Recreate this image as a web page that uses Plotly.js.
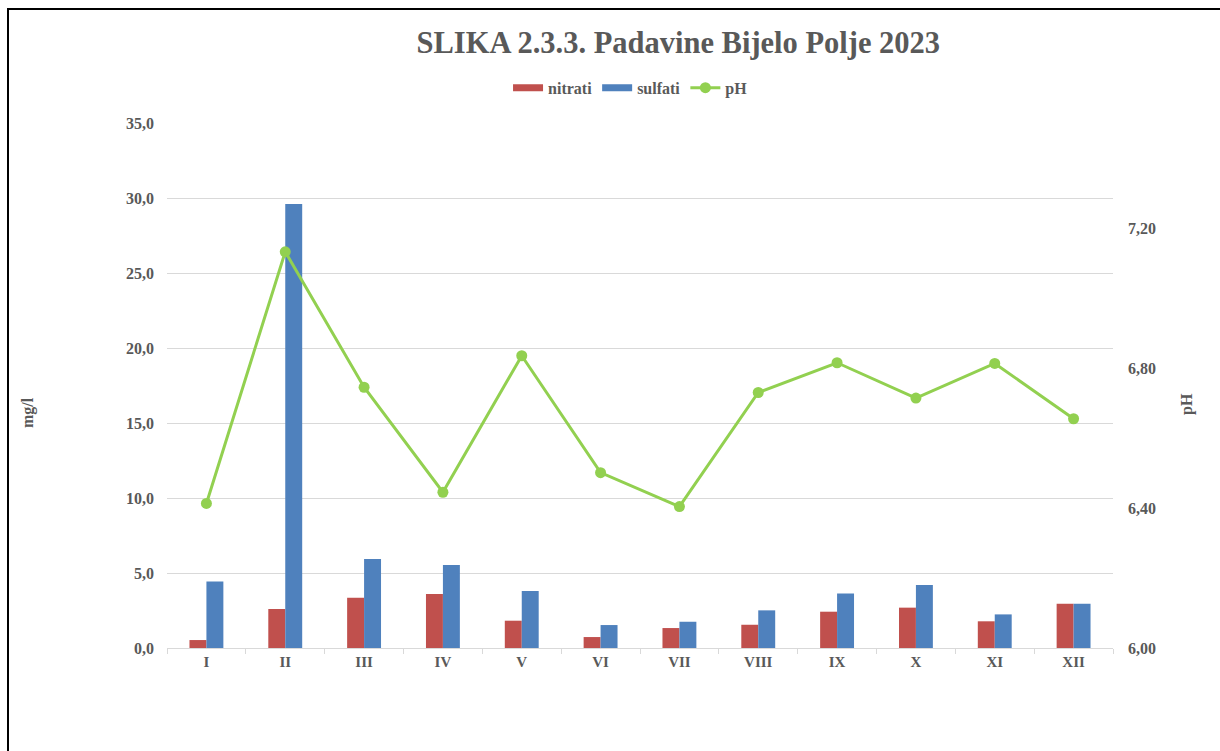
<!DOCTYPE html>
<html>
<head>
<meta charset="utf-8">
<script src="https://cdn.plot.ly/plotly-3.0.1.min.js"></script>
<style>
  html, body { margin: 0; padding: 0; background: #fff; overflow: hidden; }
  #chart { width: 1220px; height: 751px; position: absolute; left: 0; top: 0; }
  #frame { position: absolute; left: 7px; top: 8px; width: 1220px; height: 760px;
           border-left: 2px solid #000; border-top: 2px solid #000; pointer-events: none; }
</style>
</head>
<body>
<div id="chart"></div>
<div id="frame"></div>
<script>
const months  = ['I','II','III','IV','V','VI','VII','VIII','IX','X','XI','XII'];
const nitrati = [0.53, 2.6, 3.35, 3.6, 1.82, 0.73, 1.33, 1.55, 2.42, 2.69, 1.78, 2.95];
const sulfati = [4.44, 29.6, 5.93, 5.53, 3.8, 1.53, 1.75, 2.51, 3.64, 4.2, 2.24, 2.95];
const pH      = [6.413, 7.132, 6.745, 6.445, 6.835, 6.501, 6.404, 6.730, 6.815, 6.714, 6.813, 6.655];

const RED = '#C0504D', BLUE = '#4F81BD', GREEN = '#92D050', GRAY = '#595959';
const FONT = 'Liberation Serif, Times New Roman, serif';

const traces = [
  { type: 'bar', name: 'nitrati', x: months, y: nitrati, marker: { color: RED },
    showlegend: false, hoverinfo: 'y' },
  { type: 'bar', name: 'sulfati', x: months, y: sulfati, marker: { color: BLUE },
    showlegend: false, hoverinfo: 'y' },
  { type: 'scatter', mode: 'lines', name: 'nitrati', x: [null], y: [null],
    line: { color: RED, width: 7 }, showlegend: true, hoverinfo: 'skip' },
  { type: 'scatter', mode: 'lines', name: 'sulfati', x: [null], y: [null],
    line: { color: BLUE, width: 7 }, showlegend: true, hoverinfo: 'skip' },
  { type: 'scatter', mode: 'lines+markers', name: 'pH', x: months, y: pH, yaxis: 'y2',
    line: { color: GREEN, width: 3 }, marker: { color: GREEN, size: 11 } }
];

const layout = {
  width: 1220, height: 751,
  margin: { l: 167, r: 107, t: 123, b: 103 },
  paper_bgcolor: '#fff', plot_bgcolor: '#fff',
  separators: ', ',
  font: { family: FONT, color: GRAY, size: 15, weight: 'bold' },
  title: {
    text: 'SLIKA 2.3.3. Padavine Bijelo Polje 2023',
    font: { family: FONT, size: 30.5, color: GRAY, weight: 'bold' },
    x: 0.556, xanchor: 'center', xref: 'container',
    y: 0.944, yanchor: 'middle', yref: 'container'
  },
  barmode: 'group', bargap: 0.57, bargroupgap: 0,
  showlegend: true,
  legend: {
    orientation: 'h', x: 0.49, xanchor: 'center', y: 1.067, yanchor: 'middle',
    font: { family: FONT, size: 16, color: GRAY, weight: 'bold' },
    itemwidth: 30, tracegroupgap: 0, traceorder: 'normal'
  },
  xaxis: {
    type: 'category', range: [-0.5, 11.5], autorange: false,
    showgrid: false, zeroline: false,
    showline: true, linecolor: '#D9D9D9', linewidth: 1,
    ticks: 'outside', tickson: 'boundaries', ticklen: 5, tickcolor: '#D9D9D9',
    tickfont: { family: FONT, size: 15, color: GRAY, weight: 'bold' },
    fixedrange: true
  },
  yaxis: {
    range: [0, 35], dtick: 5, tickformat: '.1f',
    showgrid: true, gridcolor: '#D9D9D9', gridwidth: 1,
    zeroline: false, showline: false, ticks: '',
    ticklabelstandoff: 12,
    tickfont: { family: FONT, size: 16, color: GRAY, weight: 'bold' },
    fixedrange: true
  },
  yaxis2: {
    overlaying: 'y', side: 'right',
    range: [6, 7.5], dtick: 0.4, tick0: 6, tickformat: '.2f',
    showgrid: false, zeroline: false, showline: false, ticks: '',
    ticklabelstandoff: 14,
    tickfont: { family: FONT, size: 16, color: GRAY, weight: 'bold' },
    fixedrange: true
  },
  annotations: [
    { text: 'mg/l', xref: 'paper', yref: 'paper', x: (28 - 167) / 946, y: (648 - 413) / 525,
      xanchor: 'center', yanchor: 'middle', textangle: -90, showarrow: false,
      font: { family: FONT, size: 16, color: GRAY, weight: 'bold' } },
    { text: 'pH', xref: 'paper', yref: 'paper', x: (1187 - 167) / 946, y: (648 - 404) / 525,
      xanchor: 'center', yanchor: 'middle', textangle: -90, showarrow: false,
      font: { family: FONT, size: 16, color: GRAY, weight: 'bold' } }
  ]
};

Plotly.newPlot('chart', traces, layout, { displayModeBar: false, staticPlot: true });
</script>
</body>
</html>
